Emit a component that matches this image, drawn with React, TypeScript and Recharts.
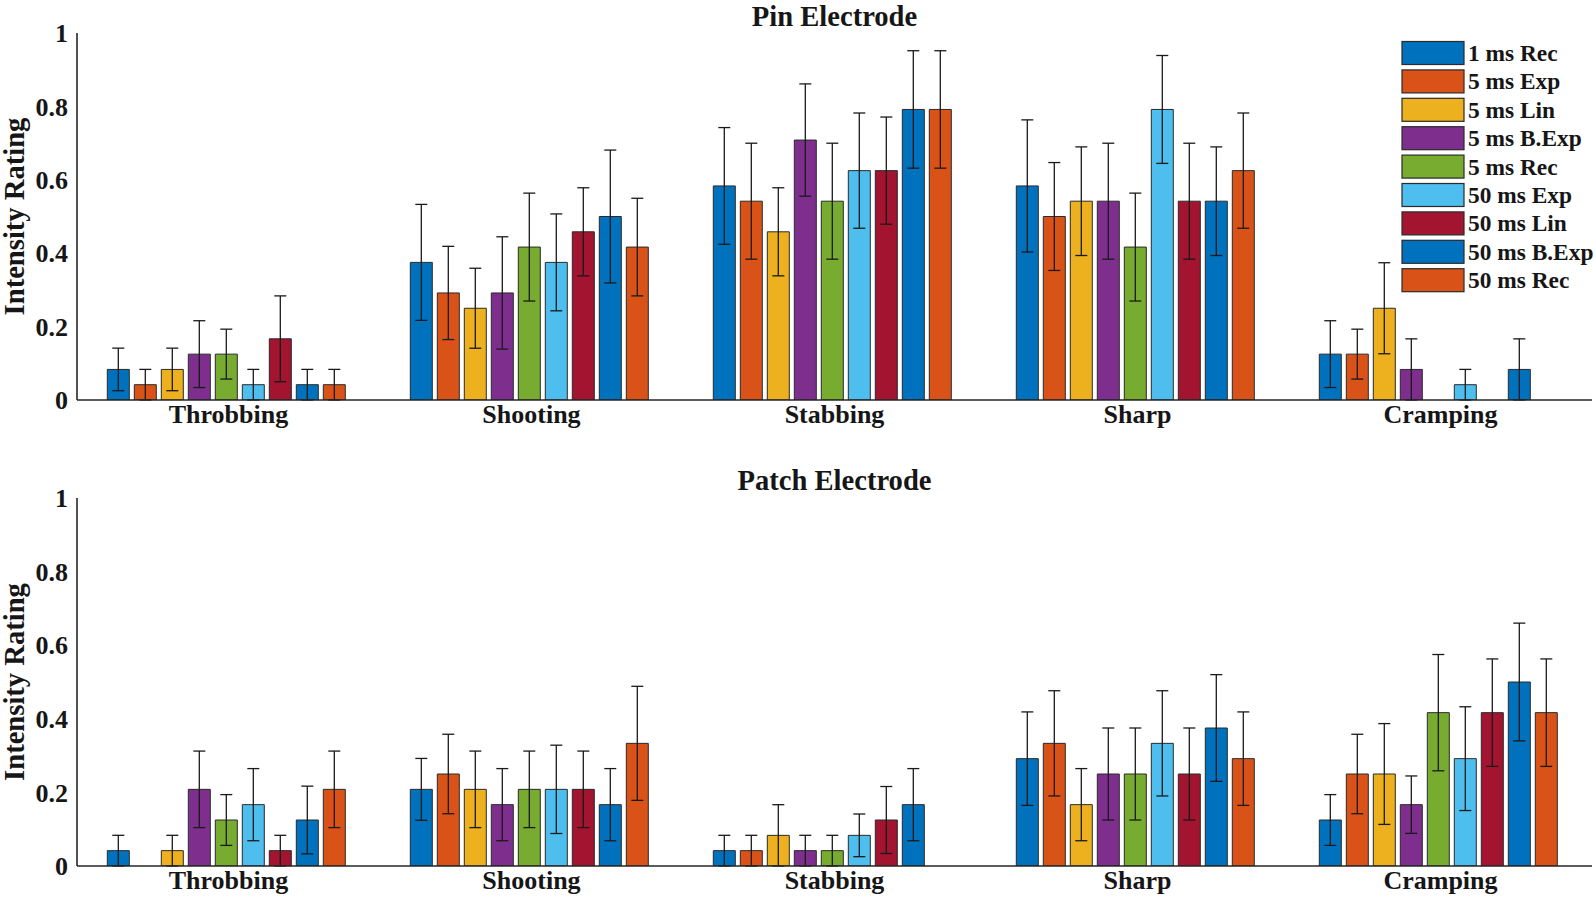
import React from 'react';
import { BarChart, Bar, XAxis, YAxis, ErrorBar, Legend, Label } from 'recharts';

const categories = ['Throbbing', 'Shooting', 'Stabbing', 'Sharp', 'Cramping'];
const seriesNames = ['1 ms Rec', '5 ms Exp', '5 ms Lin', '5 ms B.Exp', '5 ms Rec', '50 ms Exp', '50 ms Lin', '50 ms B.Exp', '50 ms Rec'];
const seriesColors = ['#0072BD', '#D95319', '#EDB120', '#7E2F8E', '#77AC30', '#4DBEEE', '#A2142F', '#0072BD', '#D95319'];
const yTicks = [0, 0.2, 0.4, 0.6, 0.8, 1];

// Pin electrode (means and error half-widths, one array per category, 9 series each)
const pinThrobbingMean = [0.0833, 0.0417, 0.0833, 0.125, 0.125, 0.0417, 0.1667, 0.0417, 0.0417];
const pinThrobbingErr = [0.058, 0.0417, 0.058, 0.091, 0.068, 0.0417, 0.117, 0.0417, 0.0417];
const pinShootingMean = [0.375, 0.2917, 0.25, 0.2917, 0.4167, 0.375, 0.4583, 0.5, 0.4167];
const pinShootingErr = [0.158, 0.127, 0.109, 0.153, 0.147, 0.132, 0.12, 0.181, 0.133];
const pinStabbingMean = [0.5833, 0.5417, 0.4583, 0.7083, 0.5417, 0.625, 0.625, 0.7917, 0.7917];
const pinStabbingErr = [0.159, 0.158, 0.12, 0.153, 0.158, 0.157, 0.146, 0.16, 0.16];
const pinSharpMean = [0.5833, 0.5, 0.5417, 0.5417, 0.4167, 0.7917, 0.5417, 0.5417, 0.625];
const pinSharpErr = [0.18, 0.147, 0.148, 0.158, 0.147, 0.147, 0.158, 0.148, 0.157];
const pinCrampingMean = [0.125, 0.125, 0.25, 0.0833, 0, 0.0417, 0, 0.0833, 0];
const pinCrampingErr = [0.091, 0.068, 0.124, 0.0833, 0, 0.0417, 0, 0.0833, 0];

// Patch electrode
const patchThrobbingMean = [0.0417, 0, 0.0417, 0.2083, 0.125, 0.1667, 0.0417, 0.125, 0.2083];
const patchThrobbingErr = [0.0417, 0, 0.0417, 0.104, 0.069, 0.098, 0.0417, 0.092, 0.104];
const patchShootingMean = [0.2083, 0.25, 0.2083, 0.1667, 0.2083, 0.2083, 0.2083, 0.1667, 0.3333];
const patchShootingErr = [0.084, 0.108, 0.104, 0.098, 0.104, 0.12, 0.104, 0.098, 0.155];
const patchStabbingMean = [0.0417, 0.0417, 0.0833, 0.0417, 0.0417, 0.0833, 0.125, 0.1667, 0];
const patchStabbingErr = [0.0417, 0.0417, 0.0833, 0.0417, 0.0417, 0.058, 0.091, 0.098, 0];
const patchSharpMean = [0.2917, 0.3333, 0.1667, 0.25, 0.25, 0.3333, 0.25, 0.375, 0.2917];
const patchSharpErr = [0.127, 0.143, 0.098, 0.125, 0.125, 0.143, 0.125, 0.145, 0.127];
const patchCrampingMean = [0.125, 0.25, 0.25, 0.1667, 0.4167, 0.2917, 0.4167, 0.5, 0.4167];
const patchCrampingErr = [0.069, 0.108, 0.137, 0.078, 0.158, 0.141, 0.146, 0.16, 0.146];

const FONT = "'Liberation Serif', 'Times New Roman', serif";
const TEXT = '#161616';
const AXIS = '#262626';

function buildData(means: number[][], errs: number[][]) {
  return categories.map((name, ci) => {
    const row: Record<string, any> = { name };
    seriesNames.forEach((_, si) => {
      row['s' + si] = means[ci][si];
      row['e' + si] = errs[ci][si];
    });
    return row;
  });
}

const pinData = buildData(
  [pinThrobbingMean, pinShootingMean, pinStabbingMean, pinSharpMean, pinCrampingMean],
  [pinThrobbingErr, pinShootingErr, pinStabbingErr, pinSharpErr, pinCrampingErr]
);
const patchData = buildData(
  [patchThrobbingMean, patchShootingMean, patchStabbingMean, patchSharpMean, patchCrampingMean],
  [patchThrobbingErr, patchShootingErr, patchStabbingErr, patchSharpErr, patchCrampingErr]
);

function LegendContent() {
  const rowH = 28.4;
  return (
    <svg width={195} height={262} style={{ overflow: 'visible', display: 'block' }}>
      {seriesNames.map((n, i) => {
        const cy = 12 + i * rowH;
        return (
          <g key={n}>
            <rect x={2} y={cy - 11.5} width={62} height={23} fill={seriesColors[i]} stroke="#2a2a2a" strokeWidth={1.2} />
            <text x={68} y={cy + 8} fontFamily={FONT} fontWeight="bold" fontSize={23.4} fill={TEXT}>{n}</text>
          </g>
        );
      })}
    </svg>
  );
}

function Panel({ data, top, marginTop, marginBottom, showLegend }: { data: any[]; top: number; marginTop: number; marginBottom: number; showLegend: boolean }) {
  const tickStyle = { fill: TEXT, fontSize: 26, fontFamily: FONT, fontWeight: 'bold' as const };
  return (
    <div style={{ position: 'absolute', left: 0, top, width: 1595, height: 440 }}>
      <BarChart
        width={1595}
        height={440}
        data={data}
        margin={{ top: marginTop, right: 3, bottom: marginBottom, left: 0 }}
        barCategoryGap="10%"
        barGap={5}
      >
        <XAxis
          dataKey="name"
          height={30}
          interval={0}
          tickLine={false}
          tickSize={0}
          tickMargin={5}
          axisLine={{ stroke: AXIS, strokeWidth: 1.6 }}
          tick={tickStyle}
        />
        <YAxis
          width={77}
          domain={[0, 1]}
          ticks={yTicks}
          allowDataOverflow
          tickLine={false}
          tickSize={0}
          tickMargin={9}
          axisLine={{ stroke: AXIS, strokeWidth: 1.6 }}
          tick={tickStyle}
        >
          <Label
            value="Intensity Rating"
            angle={-90}
            position="insideLeft"
            offset={14}
            fill={TEXT}
            style={{ textAnchor: 'middle', fontSize: 28.6, fontFamily: FONT, fontWeight: 'bold', fill: TEXT }}
          />
        </YAxis>
        {seriesNames.map((n, i) => (
          <Bar key={n} dataKey={'s' + i} name={n} fill={seriesColors[i]} stroke="#2a2a2a" strokeWidth={1} isAnimationActive={false}>
            <ErrorBar dataKey={'e' + i} width={6} stroke="#1a1a1a" strokeWidth={1.3} isAnimationActive={false} />
          </Bar>
        ))}
        {showLegend && (
          <Legend
            layout="vertical"
            align="center"
            verticalAlign="middle"
            content={() => <LegendContent />}
            wrapperStyle={{ position: 'absolute', left: 1400, top: 41, width: 195, height: 262 }}
          />
        )}
      </BarChart>
    </div>
  );
}

export default function App() {
  return (
    <div style={{ position: 'absolute', left: 0, top: 0, width: 1595, height: 898, background: '#ffffff', overflow: 'hidden' }}>
      <Panel data={pinData} top={0} marginTop={33} marginBottom={10} showLegend={true} />
      <Panel data={patchData} top={458} marginTop={40} marginBottom={2} showLegend={false} />
      <svg width={1595} height={898} style={{ position: 'absolute', left: 0, top: 0, pointerEvents: 'none' }}>
        <text x={834.5} y={25.5} textAnchor="middle" fontFamily={FONT} fontWeight="bold" fontSize={28.6} fill={TEXT}>Pin Electrode</text>
        <text x={834.5} y={490} textAnchor="middle" fontFamily={FONT} fontWeight="bold" fontSize={28.6} fill={TEXT}>Patch Electrode</text>
      </svg>
    </div>
  );
}
